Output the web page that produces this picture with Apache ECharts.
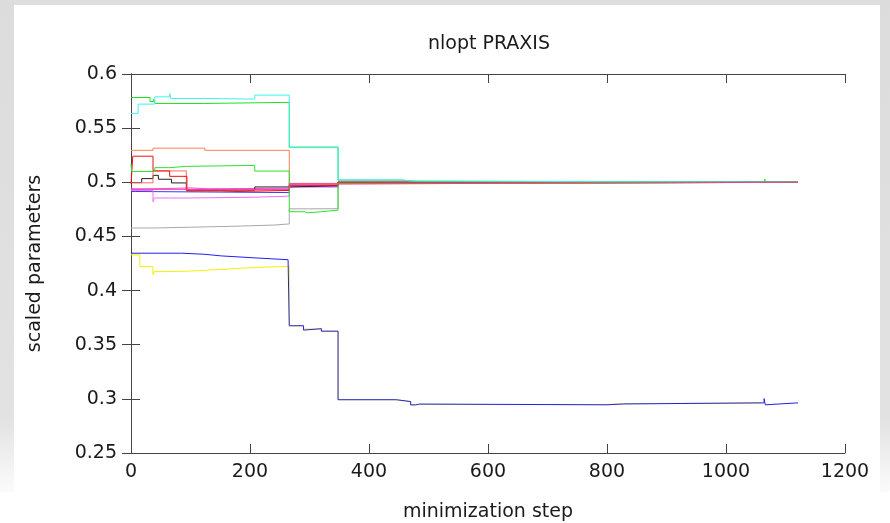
<!DOCTYPE html>
<html>
<head>
<meta charset="utf-8">
<title>nlopt PRAXIS</title>
<script src="https://cdn.jsdelivr.net/npm/echarts@6/dist/echarts.min.js"></script>
<style>
  html, body { margin: 0; padding: 0; background: #fff; }
  #chart { width: 890px; height: 523px; }
</style>
</head>
<body>
<div id="chart"></div>
<script>
// axis ticks
var xTicks = [0, 200, 400, 600, 800, 1000, 1200];
var yTicks = [0.25, 0.3, 0.35, 0.4, 0.45, 0.5, 0.55, 0.6];

// each point: [step, value] - value is held until the next step
var grayData = [[0,0.4578],[40,0.4585],[100,0.4595],[180,0.4605],[240,0.4615],[266,0.4755],[300,0.4756],[348,0.5],[1121,0.5]];
var yellowData = [[0,0.433],[15,0.4222],[37,0.4145],[39,0.4175],[60,0.418],[100,0.4195],[150,0.4205],[180,0.4215],[220,0.4225],[266,0.3675],[290,0.3645],[320,0.3625],[348,0.2992],[446,0.2975],[470,0.2948],[800,0.2955],[828,0.2963],[1060,0.2963]];
var blueData = [[0,0.4345],[85,0.4335],[124,0.432],[152,0.4302],[208,0.4285],[264,0.427],[266,0.3675],[290,0.3635],[292,0.3648],[320,0.3625],[348,0.2992],[446,0.2975],[470,0.2944],[478,0.2952],[485,0.2945],[800,0.2953],[828,0.2963],[1064,0.3002],[1066,0.2945],[1068,0.2963],[1121,0.2963]];
var blue2Data = [[0,0.4915],[7,0.4905],[266,0.4972],[348,0.5],[1121,0.5]];
var violetData = [[0,0.4925],[37,0.482],[39,0.4855],[100,0.4862],[208,0.4872],[266,0.4955],[348,0.5],[1121,0.5]];
var magentaData = [[0,0.494],[37,0.4948],[100,0.494],[130,0.4945],[266,0.4965],[348,0.5],[1121,0.5]];
var blackData = [[0,0.4997],[18,0.5034],[37,0.5064],[46,0.5028],[68,0.4994],[93,0.4927],[208,0.4957],[266,0.4967],[348,0.5],[1121,0.5]];
var salmonData = [[0,0.4995],[37,0.5105],[93,0.493],[266,0.499],[348,0.5],[1121,0.5]];
var redData = [[0,0.4985],[3,0.5241],[37,0.5105],[65,0.5055],[94,0.492],[150,0.4915],[180,0.4925],[266,0.4975],[348,0.5],[1121,0.5]];
var orangeData = [[0,0.5295],[37,0.5315],[124,0.5295],[266,0.4985],[348,0.5],[1121,0.5]];
var greenData = [[0,0.5783],[32,0.5746],[38,0.5765],[40,0.5728],[124,0.5738],[266,0.5325],[290,0.5315],[293,0.5325],[348,0.502],[453,0.501],[480,0.5],[1121,0.5]];
var cyanData = [[0,0.5636],[12,0.5722],[40,0.5789],[65,0.582],[67,0.5774],[124,0.5768],[208,0.5805],[266,0.532],[348,0.5022],[455,0.5012],[470,0.5],[1121,0.5]];
var green2Data = [[0,0.5171],[1,0.51],[40,0.5135],[65,0.5147],[93,0.5156],[208,0.5104],[266,0.4728],[292,0.4718],[296,0.4728],[320,0.4743],[348,0.4992],[801,0.5],[1065,0.503],[1067,0.5],[1121,0.5]];
var pinkData = [[0,0.4935],[266,0.4985],[348,0.5],[1121,0.5]];

var lines = [
    ['gray', grayData, '#a8a8a8'],
    ['yellow', yellowData, '#f2f200'],
    ['blue', blueData, '#2020f0'],
    ['blue2', blue2Data, '#3c3cf0'],
    ['violet', violetData, '#f070f0'],
    ['magenta', magentaData, '#ff40ff'],
    ['black', blackData, '#222222'],
    ['salmon', salmonData, '#ff6a6a'],
    ['red', redData, '#f01010'],
    ['orange', orangeData, '#ff7f50'],
    ['green', greenData, '#20e020'],
    ['cyan', cyanData, '#40f0f0'],
    ['green2', green2Data, '#30e030'],
    ['pink', pinkData, '#e8409c']
];

var myChart = echarts.init(document.getElementById('chart'), null, {renderer: 'canvas'});

var textFont = 'DejaVu Sans';
var textColor = '#1a1a1a';
var axisColor = '#444';

function tickAxis(pos, showLabel) {
    return {
        type: 'value',
        position: pos,
        axisLine: {show: true, lineStyle: {color: axisColor, width: 1}},
        axisTick: {show: true, inside: true, length: 9, lineStyle: {color: axisColor}},
        axisLabel: {show: showLabel, color: textColor, fontFamily: textFont, fontSize: 19,
            formatter: function (v) { return String(v); }},
        splitLine: {show: false}
    };
}

var xBottom = tickAxis('bottom', true);
xBottom.min = xTicks[0];
xBottom.max = xTicks[xTicks.length - 1];
xBottom.interval = 200;
xBottom.axisLabel.margin = 10;
xBottom.name = 'minimization step';
xBottom.nameLocation = 'middle';
xBottom.nameGap = 50;
xBottom.nameTextStyle = {color: textColor, fontFamily: textFont, fontSize: 19};

var xTop = tickAxis('top', false);
xTop.min = xBottom.min;
xTop.max = xBottom.max;
xTop.interval = 200;

var yLeft = tickAxis('left', true);
yLeft.min = yTicks[0];
yLeft.max = yTicks[yTicks.length - 1];
yLeft.interval = 0.05;
yLeft.axisLabel.margin = 14;
yLeft.name = 'scaled parameters';
yLeft.nameLocation = 'middle';
yLeft.nameGap = 86;
yLeft.nameTextStyle = {color: textColor, fontFamily: textFont, fontSize: 19};

var yRight = tickAxis('right', false);
yRight.min = yLeft.min;
yRight.max = yLeft.max;
yRight.interval = 0.05;

var frameFill = new echarts.graphic.LinearGradient(0, 0, 0, 1, [
    {offset: 0, color: '#dcdcdc'}, {offset: 0.85, color: '#e2e2e2'}, {offset: 1, color: '#fbfbfb'}]);

var option = {
    backgroundColor: '#fff',
    animation: false,
    title: {
        text: 'nlopt PRAXIS',
        left: 484,
        top: 30,
        textAlign: 'center',
        textStyle: {color: textColor, fontFamily: textFont, fontSize: 19, fontWeight: 'normal'}
    },
    // gray frame around the slide
    graphic: [
        {type: 'rect', shape: {x: 0, y: 0, width: 890, height: 5}, style: {fill: '#dedede'}, silent: true},
        {type: 'rect', shape: {x: 0, y: 0, width: 14, height: 492}, style: {fill: frameFill}, silent: true},
        {type: 'rect', shape: {x: 880, y: 0, width: 10, height: 492}, style: {fill: frameFill}, silent: true}
    ],
    grid: {left: 131, right: 45, top: 74, bottom: 70, outerBoundsMode: 'none'},
    xAxis: [xBottom, xTop],
    yAxis: [yLeft, yRight],
    series: lines.map(function (item) {
        return {
            name: item[0],
            type: 'line',
            step: 'end',
            data: item[1],
            showSymbol: false,
            lineStyle: {color: item[2], width: 1},
            itemStyle: {color: item[2]}
        };
    })
};

myChart.setOption(option);
</script>
</body>
</html>
